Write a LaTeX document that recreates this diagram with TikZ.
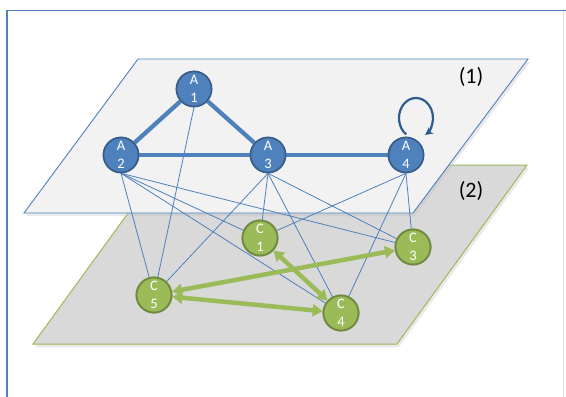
\documentclass[tikz,border=0pt]{standalone}
\usepackage{fontspec}
\setmainfont{Carlito}
\usetikzlibrary{arrows.meta}
\definecolor{ablue}{HTML}{4F81BD}
\definecolor{ablueD}{HTML}{385D8A}
\definecolor{loopblue}{HTML}{2E5C8F}
\definecolor{cgreen}{HTML}{9BBB59}
\definecolor{cgreenD}{HTML}{71893F}
\definecolor{pone}{HTML}{F2F2F2}
\definecolor{ptwo}{HTML}{D9D9D9}
\tikzset{
  anode/.style={circle, minimum size=35pt, inner sep=0pt, fill=ablue, draw=ablueD, line width=1.6pt,
    text=white, font=\fontsize{14.5}{18}\selectfont, align=center},
  cnode/.style={circle, minimum size=35pt, inner sep=0pt, fill=cgreen, draw=cgreenD, line width=1.8pt,
    text=white, font=\fontsize{14.5}{18}\selectfont, align=center},
  thin link/.style={draw=ablue, line width=0.8pt},
  thick link/.style={draw=ablue, line width=4.3pt},
  garrow/.style={draw=cgreen, line width=4.5pt, {Triangle[length=10pt,width=12pt]}-{Triangle[length=10pt,width=12pt]}},
  planelabel/.style={font=\fontsize{22}{24}\selectfont, text=black}
}
\begin{document}
\begin{tikzpicture}[x=1pt,y=-1pt]
\useasboundingbox (0,0) rectangle (566,397);
\clip (0,0) rectangle (566,397);
% frame
\draw[ablue, line width=1.2pt] (7,420) -- (7,10.5) -- (566,10.5);
\draw[black!12, line width=1pt] (563.5,11) -- (563.5,420);
% plane 2
\fill[black!25, opacity=0.35] (165,168) -- (529,168) -- (399,347) -- (35,347) -- cycle;
\draw[fill=ptwo, draw=cgreen, line width=1pt] (163,165) -- (527,165) -- (397,344) -- (33,344) -- cycle;
% plane 1
\fill[black!25, opacity=0.35] (140,62) -- (530,62) -- (415,216) -- (26,216) -- cycle;
\draw[fill=pone, draw=ablue, line width=0.9pt] (138,59) -- (528,59) -- (413,213) -- (24,213) -- cycle;
% labels
\node[planelabel] (l1) at (471,77) {(1)};
\node[planelabel] (l2) at (471,191) {(2)};
% node positions
\coordinate (pA1) at (194,89);
\coordinate (pA2) at (121,155);
\coordinate (pA3) at (268,155);
\coordinate (pA4) at (406,155);
\coordinate (pC1) at (260,238);
\coordinate (pC3) at (413,247);
\coordinate (pC4) at (341,313);
\coordinate (pC5) at (154,295);
\node[anode] (A1) at (pA1) {A\\1};
\node[anode] (A2) at (pA2) {A\\2};
\node[anode] (A3) at (pA3) {A\\3};
\node[anode] (A4) at (pA4) {A\\4};
\node[cnode] (C1) at (pC1) {C\\1};
\node[cnode] (C3) at (pC3) {C\\3};
\node[cnode] (C4) at (pC4) {C\\4};
\node[cnode] (C5) at (pC5) {C\\5};
% thin links
\path[thin link] (A1.south) -- (C5);
\path[thin link] (A2.south) -- (C5);
\path[thin link] (A2.south) -- (C1);
\path[thin link] (A2.south) -- (C4);
\path[thin link] (A2.south) -- (C3);
\path[thin link] (A3.south) -- (C5);
\path[thin link] (A3.south) -- (C1);
\path[thin link] (A3.south) -- (C4);
\path[thin link] (A3.south) -- (C3);
\path[thin link] (A4.south) -- (C1);
\path[thin link] (A4.south) -- (C4);
\path[thin link] (A4.south) -- (C3);
% thick links
\path[thick link] (A1) -- (A2);
\path[thick link] (A1) -- (A3);
\path[thick link] (A2) -- (A3);
\path[thick link] (A3) -- (A4);
% green arrows
\path[garrow] (C5) -- (C3);
\path[garrow] (C5) -- (C4);
\path[garrow] (C1) -- (C4);
% self loop on A4
\coordinate (loopc) at (416,118);
\draw[loopblue, line width=2.2pt, -{Stealth[length=8pt,width=8pt]}]
  ([shift={(235:17pt and 20pt)}]loopc) arc[start angle=235, end angle=-58, x radius=17pt, y radius=20pt];
% redraw nodes on top
\node[anode] at (pA1) {A\\1};
\node[anode] at (pA2) {A\\2};
\node[anode] at (pA3) {A\\3};
\node[anode] at (pA4) {A\\4};
\node[cnode] at (pC1) {C\\1};
\node[cnode] at (pC3) {C\\3};
\node[cnode] at (pC4) {C\\4};
\node[cnode] at (pC5) {C\\5};
\end{tikzpicture}
\end{document}
